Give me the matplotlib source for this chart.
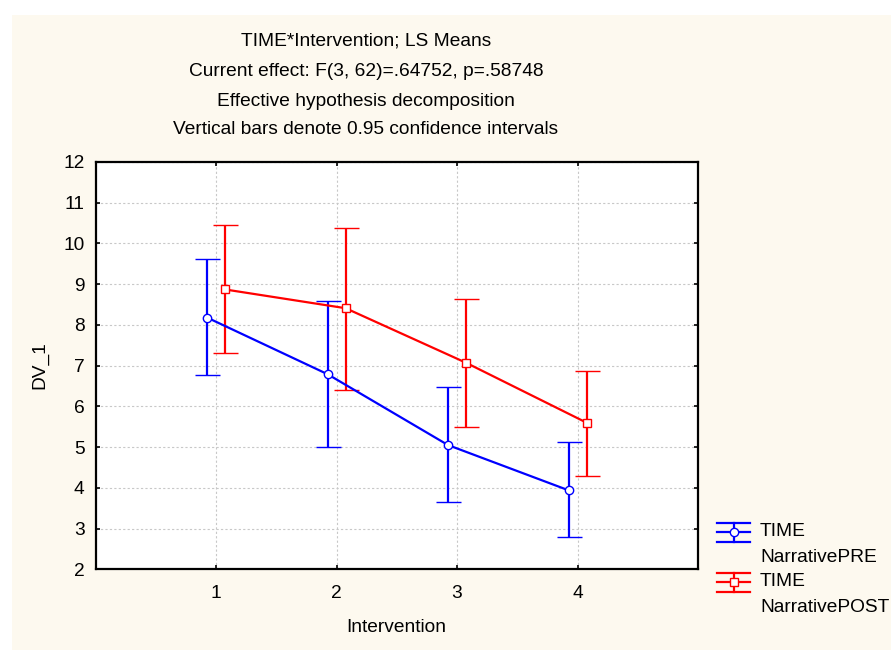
import matplotlib
matplotlib.use("Agg")
import matplotlib.pyplot as plt
from matplotlib.patches import Rectangle
from matplotlib.lines import Line2D
import numpy as np

plt.rcParams['font.family'] = ['Liberation Sans', 'DejaVu Sans']

categories = [1, 2, 3, 4]
pre_mean = [8.18, 6.79, 5.05, 3.94]
pre_upper = [9.61, 8.59, 6.48, 5.12]
pre_lower = [6.77, 5.01, 3.65, 2.80]
post_mean = [8.87, 8.41, 7.07, 5.60]
post_upper = [10.45, 10.38, 8.64, 6.88]
post_lower = [7.30, 6.40, 5.50, 4.30]
title_lines = ["TIME*Intervention; LS Means",
               "Current effect: F(3, 62)=.64752, p=.58748",
               "Effective hypothesis decomposition",
               "Vertical bars denote 0.95 confidence intervals"]
labels = [("TIME", "NarrativePRE"), ("TIME", "NarrativePOST")]

W, H = 891, 650
FS = 13.8
fig = plt.figure(figsize=(W / 100, H / 100), dpi=100)
fig.patch.set_facecolor('white')
cream = '#FDF9EF'
fig.patches.append(Rectangle((12 / W, 0), 1 - 12 / W, 1 - 15 / H,
                             transform=fig.transFigure, facecolor=cream,
                             edgecolor='none', zorder=-10))

left, right, top, bottom = 95.7, 698, 162, 569.3
ax = fig.add_axes([left / W, 1 - bottom / H, (right - left) / W, (bottom - top) / H])
ax.set_facecolor('white')

x = np.array(categories, dtype=float)
off = 0.075
pm = np.array(pre_mean); qm = np.array(post_mean)
pre_err = [pm - np.array(pre_lower), np.array(pre_upper) - pm]
post_err = [qm - np.array(post_lower), np.array(post_upper) - qm]

series = [
    (x - off, pm, pre_err, '#0000FF', 'o'),
    (x + off, qm, post_err, '#FF0000', 's'),
]
for xs, ys, err, col, mk in series:
    ax.errorbar(xs, ys, yerr=err, color=col, lw=1.6,
                elinewidth=1.6, capsize=9, capthick=1.6, marker=mk,
                markersize=6 if mk == 'o' else 5.5, markerfacecolor='white',
                markeredgecolor=col, markeredgewidth=1.0, zorder=3)

ax.set_xlim(0, 5)
ax.set_ylim(2, 12)
ax.set_xticks(categories)
ax.set_yticks(range(2, 13))
ax.grid(True, color='#C8C8C8', linestyle=(0, (2, 2)), linewidth=0.8)
ax.set_axisbelow(True)
ax.tick_params(direction='in', length=3, width=1.2, top=True, right=True,
               labelsize=FS, pad=8, colors='black')
ax.tick_params(axis='x', pad=11)
for s in ax.spines.values():
    s.set_linewidth(1.6)
    s.set_color('black')

fig.text(40 / W, 1 - 365 / H, "DV_1", rotation=90, ha='center', va='center', fontsize=FS)
fig.text(396 / W, 1 - 627 / H, "Intervention", ha='center', va='center', fontsize=FS)

for t, yy in zip(title_lines, [41, 71, 101, 130]):
    fig.text(366 / W, 1 - yy / H, t, ha='center', va='center', fontsize=FS)

# manual legend (figure pixel coordinates -> fraction)
def fx(px):
    return px / W

def fy(py):
    return 1 - py / H

for (l1, l2), (_, _, _, col, mk), yc in zip(labels, series, [532, 582]):
    x0, x1, xc = 717, 750, 733.5
    for yy in (yc - 9.5, yc, yc + 9.5):
        fig.add_artist(Line2D([fx(x0), fx(x1)], [fy(yy), fy(yy)], color=col, lw=1.6))
    fig.add_artist(Line2D([fx(xc), fx(xc)], [fy(yc - 9.5), fy(yc + 9.5)], color=col, lw=1.6))
    fig.add_artist(Line2D([fx(xc)], [fy(yc)], marker=mk, markersize=6 if mk == 'o' else 5.5,
                          markerfacecolor='white', markeredgecolor=col,
                          markeredgewidth=1.0, linestyle='none'))
    fig.text(fx(760), fy(yc), l1, ha='left', va='center', fontsize=FS)
    fig.text(fx(760), fy(yc + 25.5), l2, ha='left', va='center', fontsize=FS)

fig.savefig('out.png', dpi=100, facecolor=fig.get_facecolor())
